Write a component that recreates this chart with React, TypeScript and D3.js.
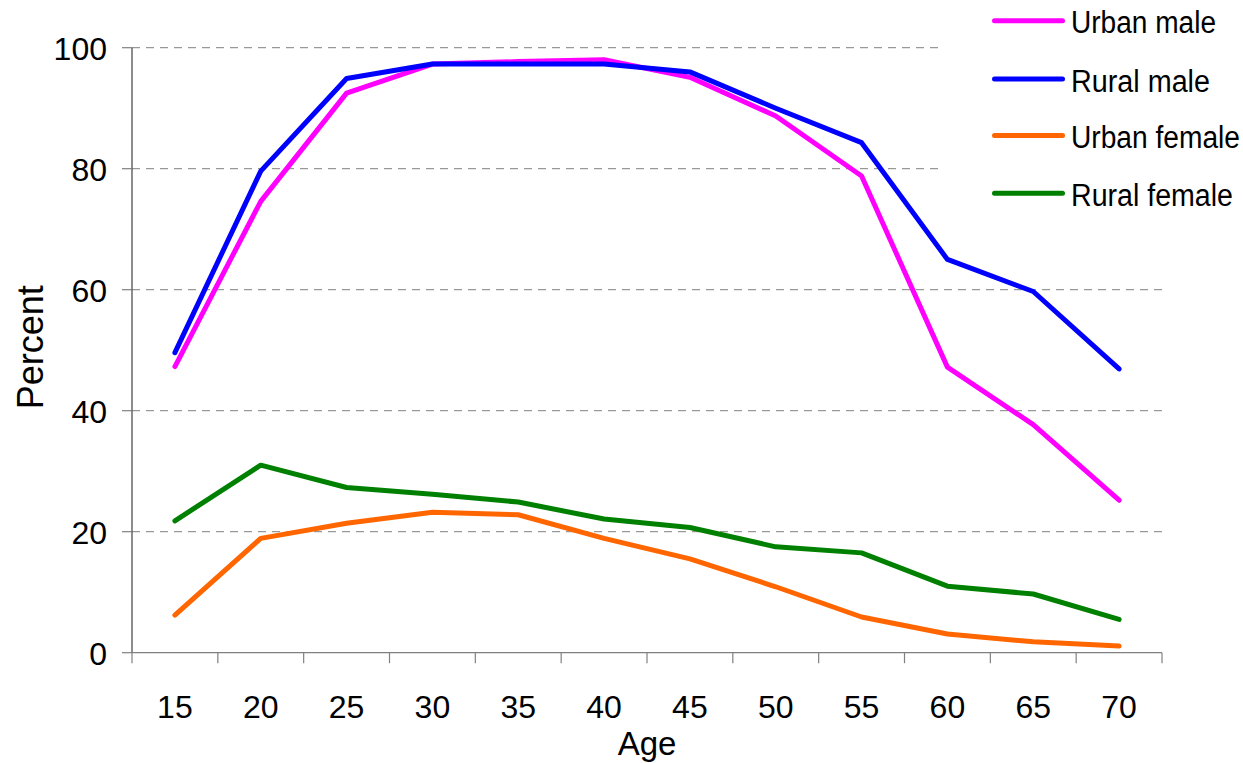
import React from "react";
import * as d3 from "d3";

const ages = [15, 20, 25, 30, 35, 40, 45, 50, 55, 60, 65, 70];
const urbanMale = [47.3, 74.6, 92.5, 97.3, 97.7, 98.0, 95.1, 88.7, 78.8, 47.2, 37.7, 25.2];
const ruralMale = [49.6, 79.6, 94.9, 97.3, 97.3, 97.3, 96.0, 90.0, 84.3, 65.0, 59.7, 46.9];
const urbanFemale = [6.2, 18.9, 21.4, 23.2, 22.8, 18.9, 15.5, 10.9, 5.9, 3.1, 1.8, 1.1];
const ruralFemale = [21.8, 31.0, 27.3, 26.2, 24.9, 22.1, 20.7, 17.5, 16.5, 11.0, 9.7, 5.5];
const yTicks = [0, 20, 40, 60, 80, 100];

const seriesNames = ["Urban male", "Rural male", "Urban female", "Rural female"];
const seriesValues = [urbanMale, ruralMale, urbanFemale, ruralFemale];
const seriesColors = ["#FF00FF", "#0000FF", "#FF6600", "#008000"];

const W = 1243;
const H = 763;
const left = 132;
const right = 1162;
const top = 47.7;
const bottom = 652.7;
const font = "'Liberation Sans', Arial, sans-serif";
const legendTextWidths = [145, 139, 169, 162];
const legendY = [20.7, 79, 135.5, 193.3];

export default function App() {
  const x = d3.scaleBand<number>().domain(ages).range([left, right]);
  const bw = x.bandwidth();
  const y = d3.scaleLinear().domain([0, 100]).range([bottom, top]);
  const cx = (a: number) => (x(a) as number) + bw / 2;

  const line = d3
    .line<number>()
    .x((_, i) => cx(ages[i]))
    .y((v) => y(v));

  const boundaries = ages.map((a) => x(a) as number).concat([right]);

  return (
    <svg
      width={W}
      height={H}
      style={{ position: "absolute", left: 0, top: 0, background: "#fff" }}
    >
      <rect x={0} y={0} width={W} height={H} fill="#fff" />
      {yTicks
        .filter((t) => t > 0)
        .map((t) => (
          <line
            key={"g" + t}
            x1={left}
            x2={right}
            y1={y(t)}
            y2={y(t)}
            stroke="#808080"
            strokeWidth={1}
            strokeDasharray="8,6"
          />
        ))}
      <line x1={left} x2={left} y1={top} y2={bottom} stroke="#404040" strokeWidth={1.2} />
      {yTicks.map((t) => (
        <g key={"yt" + t}>
          <line x1={left - 10} x2={left} y1={y(t)} y2={y(t)} stroke="#808080" strokeWidth={1.2} />
          <text
            x={107}
            y={y(t) + 12.5}
            textAnchor="end"
            fontFamily={font}
            fontSize={32}
            fill="#000"
          >
            {t}
          </text>
        </g>
      ))}
      <line x1={left} x2={right} y1={bottom} y2={bottom} stroke="#808080" strokeWidth={1.2} />
      {boundaries.map((b, i) => (
        <line
          key={"xt" + i}
          x1={b}
          x2={b}
          y1={bottom}
          y2={bottom + 10.5}
          stroke="#808080"
          strokeWidth={1.2}
        />
      ))}
      {ages.map((a) => (
        <text
          key={"xl" + a}
          x={cx(a)}
          y={718.3}
          textAnchor="middle"
          fontFamily={font}
          fontSize={32}
          fill="#000"
        >
          {a}
        </text>
      ))}
      <text
        x={(left + right) / 2}
        y={755}
        textAnchor="middle"
        fontFamily={font}
        fontSize={33}
        fill="#000"
      >
        Age
      </text>
      <text
        transform={`translate(42.7, ${(top + bottom) / 2 - 3}) rotate(-90)`}
        textAnchor="middle"
        fontFamily={font}
        fontSize={36}
        fill="#000"
      >
        Percent
      </text>
      {seriesValues.map((vals, i) => (
        <path
          key={"s" + i}
          d={line(vals) || ""}
          fill="none"
          stroke={seriesColors[i]}
          strokeWidth={5}
          strokeLinecap="round"
          strokeLinejoin="round"
        />
      ))}
      <rect x={939} y={0} width={W - 939} height={230} fill="#fff" />
      {seriesNames.map((n, i) => (
        <g key={"lg" + i}>
          <line
            x1={994.5}
            x2={1062.5}
            y1={legendY[i]}
            y2={legendY[i]}
            stroke={seriesColors[i]}
            strokeWidth={5}
            strokeLinecap="round"
          />
          <text
            x={1071}
            y={legendY[i] + 12.6}
            fontFamily={font}
            fontSize={31}
            fill="#000"
            textLength={legendTextWidths[i]}
            lengthAdjust="spacingAndGlyphs"
          >
            {n}
          </text>
        </g>
      ))}
    </svg>
  );
}
